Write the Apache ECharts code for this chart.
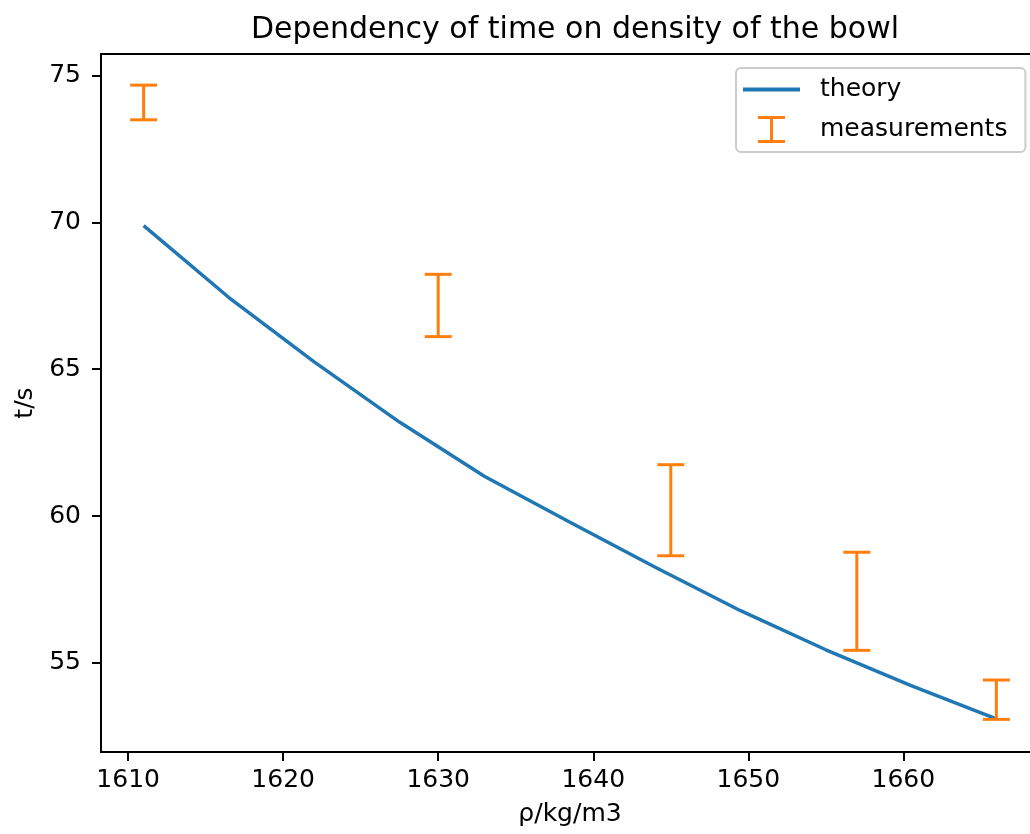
<!DOCTYPE html>
<html>
<head>
<meta charset="utf-8">
<script src="https://cdn.jsdelivr.net/npm/echarts@6/dist/echarts.min.js"></script>
<style>
html,body{margin:0;padding:0;background:#fff;}
#chart{width:1030px;height:834px;}
</style>
</head>
<body>
<div id="chart"></div>
<script>
// ---- data ----
var theoryX = [1611, 1616.5, 1622, 1627.5, 1633, 1638.5, 1644, 1649.5, 1655, 1660.5, 1666];
var theoryT = [69.89, 67.44, 65.25, 63.20, 61.35, 59.79, 58.26, 56.78, 55.45, 54.23, 53.10];

var measX = [1611, 1630, 1645, 1657, 1666];
var measT = [74.08, 67.17, 60.20, 57.10, 53.75];
var measErr = [0.59, 1.06, 1.55, 1.67, 0.67];

var xTicks = [1610, 1620, 1630, 1640, 1650, 1660];
var yTicks = [55, 60, 65, 70, 75];

var titleText = 'Dependency of time on density of the bowl';
var xName = 'ρ/kg/m3';
var yName = 't/s';
var seriesNames = ['theory', 'measurements'];

// ---- build ----
var FONT = 'DejaVu Sans';
var BLUE = '#1f77b4', ORANGE = '#ff7f0e';

var theoryData = theoryX.map(function (x, i) { return [x, theoryT[i]]; });
var measData = measX.map(function (x, i) { return [x, measT[i], measErr[i]]; });

var chart = echarts.init(document.getElementById('chart'), null, {renderer: 'canvas'});

var axisCommon = {
  axisLine: {show: true, lineStyle: {color: '#000', width: 2}},
  axisTick: {show: true, length: 9, inside: false, lineStyle: {color: '#000', width: 2}},
  splitLine: {show: false},
  axisLabel: {color: '#000', fontFamily: FONT, fontSize: 25, formatter: function (v) { return String(v); }},
  nameTextStyle: {color: '#000', fontFamily: FONT, fontSize: 25}
};

var option = {
  animation: false,
  backgroundColor: '#fff',
  title: {
    text: titleText,
    left: 570, textAlign: 'center',
    top: 10,
    textStyle: {color: '#000', fontFamily: FONT, fontSize: 30, fontWeight: 'normal'}
  },
  grid: {
    left: 101, top: 54, width: 938, height: 698,
    outerBoundsMode: 'none',
    containLabel: false,
    show: true, borderColor: '#000', borderWidth: 2, backgroundColor: 'transparent'
  },
  legend: {
    left: 736, top: 68,
    orient: 'vertical',
    itemWidth: 57, itemHeight: 27, itemGap: 14,
    padding: [9, 18, 9, 7],
    backgroundColor: 'rgba(255,255,255,0.8)',
    borderColor: '#cccccc', borderWidth: 2, borderRadius: 5,
    textStyle: {color: '#000', fontFamily: FONT, fontSize: 25, padding: [0, 0, 0, 15]},
    data: [
      {name: seriesNames[0], icon: 'path://M0,0H57V4H0Z'},
      {name: seriesNames[1], icon: 'path://M0,0H27V3H15V24H27V27H0V24H12V3H0Z'}
    ]
  },
  xAxis: echarts.util.merge({
    type: 'value',
    min: 1608.25, max: 1668.75,
    name: xName, nameLocation: 'middle', nameGap: 50,
    axisTick: {customValues: xTicks},
    axisLabel: {customValues: xTicks, margin: 16}
  }, axisCommon),
  yAxis: echarts.util.merge({
    type: 'value',
    min: 51.97, max: 75.73,
    name: yName, nameLocation: 'middle', nameGap: 63,
    axisTick: {customValues: yTicks},
    axisLabel: {customValues: yTicks, margin: 20}
  }, axisCommon),
  series: [
    {
      name: seriesNames[0],
      type: 'line',
      data: theoryData,
      showSymbol: false,
      symbol: 'none',
      lineStyle: {color: BLUE, width: 3.5},
      itemStyle: {color: BLUE},
      z: 2
    },
    {
      name: seriesNames[1],
      type: 'custom',
      data: measData,
      itemStyle: {color: ORANGE},
      encode: {x: 0, y: 1},
      z: 3,
      renderItem: function (params, api) {
        var x = api.value(0), c = api.value(1), e = api.value(2);
        var top = api.coord([x, c + e]);
        var bot = api.coord([x, c - e]);
        var hw = 13.5;
        var st = {stroke: ORANGE, lineWidth: 3, fill: null};
        return {
          type: 'group',
          children: [
            {type: 'line', shape: {x1: top[0], y1: top[1], x2: bot[0], y2: bot[1]}, style: st},
            {type: 'line', shape: {x1: top[0] - hw, y1: top[1], x2: top[0] + hw, y2: top[1]}, style: st},
            {type: 'line', shape: {x1: bot[0] - hw, y1: bot[1], x2: bot[0] + hw, y2: bot[1]}, style: st}
          ]
        };
      }
    }
  ]
};

chart.setOption(option);
</script>
</body>
</html>
